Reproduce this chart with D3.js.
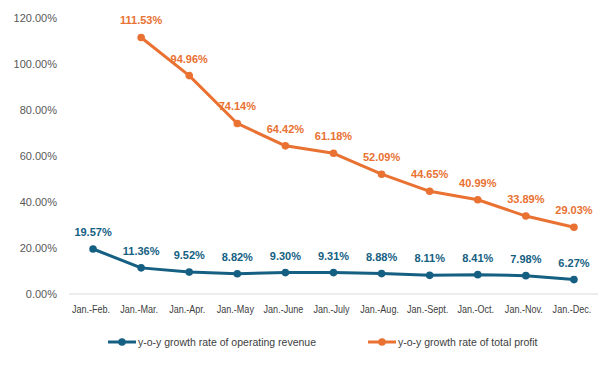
<!DOCTYPE html>
<html lang="en">
<head>
    <meta charset="UTF-8">
    <title>Growth rates</title>
    <script src="https://d3js.org/d3.v7.min.js"></script>
    <style>
        body { margin: 0; background: #fff; }
        text { font-family: "Liberation Sans", Arial, sans-serif; }
    </style>
</head>
<body>
    <svg width="611" height="369" id="mainsvg"></svg>
    <script>
        // data
        const months = ['Jan.-Feb.', 'Jan.-Mar.', 'Jan.-Apr.', 'Jan.-May', 'Jan.-June', 'Jan.-July',
            'Jan.-Aug.', 'Jan.-Sept.', 'Jan.-Oct.', 'Jan.-Nov.', 'Jan.-Dec.'];
        const revenue = [19.57, 11.36, 9.52, 8.82, 9.30, 9.31, 8.88, 8.11, 8.41, 7.98, 6.27];
        const profit = [null, 111.53, 94.96, 74.14, 64.42, 61.18, 52.09, 44.65, 40.99, 33.89, 29.03];
        const yTicks = [0, 20, 40, 60, 80, 100, 120];
        const seriesNames = ['y-o-y growth rate of operating revenue', 'y-o-y growth rate of total profit'];

        const svg = d3.select('#mainsvg');
        const margin = { top: 18, right: 13, bottom: 75, left: 69 };
        const innerWidth = 611 - margin.left - margin.right;
        const innerHeight = 369 - margin.top - margin.bottom;

        const xScale = d3.scaleBand().domain(months).range([margin.left, margin.left + innerWidth]);
        const yScale = d3.scaleLinear().domain([0, 120]).range([margin.top + innerHeight, margin.top]);
        const cx = d => xScale(d) + xScale.bandwidth() / 2;

        // y tick labels (no axis line)
        svg.selectAll('.ylab').data(yTicks).enter().append('text')
            .attr('class', 'ylab')
            .attr('x', margin.left - 12).attr('y', d => yScale(d) + 4)
            .attr('text-anchor', 'end')
            .attr('font-size', 11).attr('fill', '#595959')
            .text(d => d.toFixed(2) + '%');

        // baseline
        svg.append('line').attr('x1', margin.left).attr('x2', margin.left + innerWidth)
            .attr('y1', yScale(0)).attr('y2', yScale(0))
            .attr('stroke', '#d9d9d9').attr('stroke-width', 1);

        // x tick labels, squeezed a bit to look like a narrow font
        svg.selectAll('.xlab').data(months).enter().append('text')
            .attr('class', 'xlab')
            .attr('transform', d => `translate(${cx(d) - 2},${yScale(0) + 19}) scale(0.78,1)`)
            .attr('text-anchor', 'middle')
            .attr('font-size', 11.6).attr('fill', '#404040')
            .text(d => d);

        const series = [
            { values: revenue, color: '#156082' },
            { values: profit, color: '#E97132' }
        ];

        series.forEach(s => {
            const pts = months.map((m, i) => ({ m, v: s.values[i] })).filter(d => d.v !== null);
            const line = d3.line().x(d => cx(d.m)).y(d => yScale(d.v));
            svg.append('path').datum(pts)
                .attr('d', line).attr('fill', 'none')
                .attr('stroke', s.color).attr('stroke-width', 3)
                .attr('stroke-linejoin', 'round');
            svg.selectAll(null).data(pts).enter().append('circle')
                .attr('cx', d => cx(d.m)).attr('cy', d => yScale(d.v))
                .attr('r', 3.8).attr('fill', s.color);
            svg.selectAll(null).data(pts).enter().append('text')
                .attr('x', d => cx(d.m)).attr('y', d => yScale(d.v) - 13)
                .attr('text-anchor', 'middle')
                .attr('font-size', 11).attr('font-weight', 'bold')
                .attr('fill', s.color)
                .text(d => d.v.toFixed(2) + '%');
        });

        // legend
        const legendX = [108, 368];
        series.forEach((s, i) => {
            const lx = legendX[i], ly = 342;
            svg.append('line').attr('x1', lx).attr('x2', lx + 28).attr('y1', ly).attr('y2', ly)
                .attr('stroke', s.color).attr('stroke-width', 3);
            svg.append('circle').attr('cx', lx + 14).attr('cy', ly).attr('r', 3.8).attr('fill', s.color);
            svg.append('text').attr('x', lx + 30).attr('y', ly + 4)
                .attr('font-size', 10.5).attr('fill', '#404040')
                .text(seriesNames[i]);
        });
    </script>
</body>
</html>
